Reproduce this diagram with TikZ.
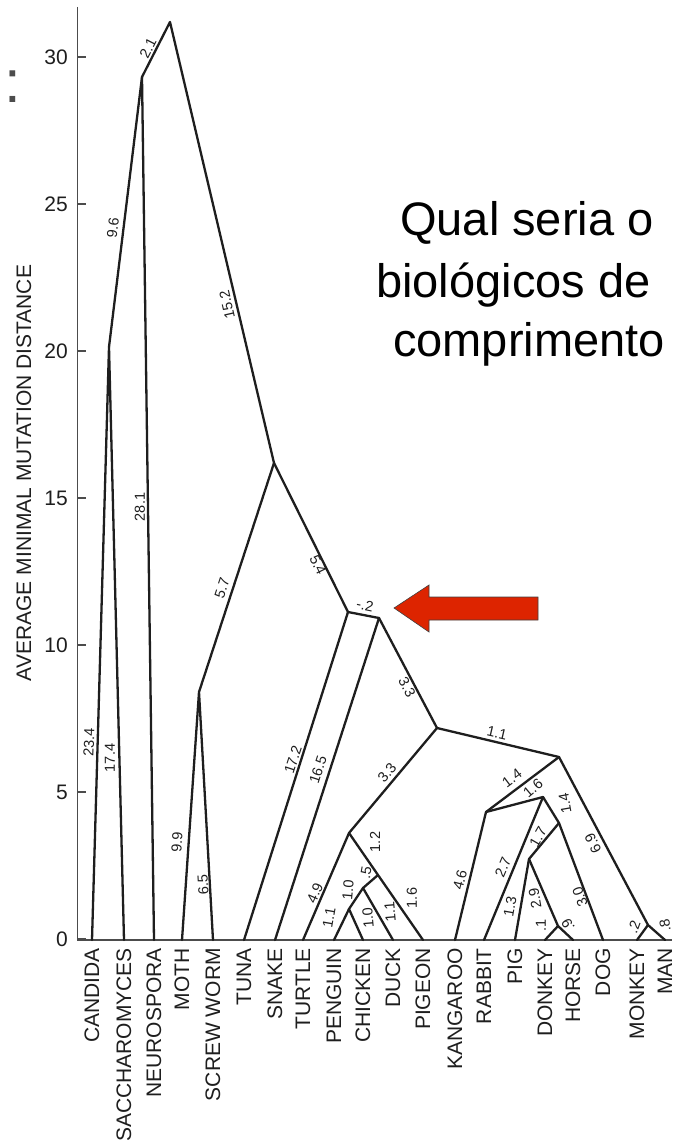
\documentclass[tikz,border=0pt]{standalone}
\usepackage{fontspec}
\setmainfont{Liberation Sans}
\definecolor{ink}{RGB}{30,30,30}
\definecolor{arrowred}{RGB}{221,36,0}
\tikzset{
  branch/.style={line width=2.3pt, draw=ink, line join=round, line cap=round},
  axisline/.style={line width=1.3pt, draw=black!70},
  blen/.style={font=\fontsize{14.5}{16}\selectfont, text=ink, inner sep=0pt},
  leaflab/.style={font=\fontsize{21}{24}\selectfont, text=ink, rotate=90, anchor=east, inner sep=0pt},
  ticklab/.style={font=\fontsize{21}{24}\selectfont, text=ink, anchor=east, inner sep=0pt},
  question/.style={font=\fontsize{47}{56}\selectfont, anchor=base west, inner sep=0pt}
}
\begin{document}
\begin{tikzpicture}[x=1pt, y=-1pt]
\useasboundingbox (0,0) rectangle (672,1148);

\draw[axisline] (77.5,7) -- (77.5,940) -- (672,940);
\foreach \v in {0,5,...,30} {
  \draw[axisline] (77.5,939-29.4*\v) -- (86,939-29.4*\v);
  \node[ticklab] (tick\v) at (68,939-29.4*\v) {\v};
}
\node[font=\fontsize{21}{24}\selectfont, rotate=90, text=ink, inner sep=0pt] (ytitle) at (24,473) {AVERAGE MINIMAL MUTATION DISTANCE};

\foreach \x/\name/\txt in {92/cand/CANDIDA, 124/sacc/SACCHAROMYCES, 154/neur/NEUROSPORA,
    182/moth/MOTH, 213/scre/SCREW WORM, 244/tuna/TUNA, 275/snak/SNAKE, 303/turt/TURTLE,
    334/peng/PENGUIN, 363/chic/CHICKEN, 393/duck/DUCK, 423/pige/PIGEON, 455/kang/KANGAROO,
    484/rabb/RABBIT, 515/pig/PIG, 545/donk/DONKEY, 573/hors/HORSE, 603/dog/DOG,
    637/monk/MONKEY, 665/man/MAN} {
  \coordinate (\name) at (\x,940);
  \node[leaflab] (\name-lab) at (\x,948) {\txt};
}

\coordinate (root) at (170,22);
\coordinate (fungi) at (142,77);
\coordinate (yeast) at (109,347);
\coordinate (animal) at (274,463);
\coordinate (insect) at (199,692);
\coordinate (vert) at (348,612);
\coordinate (tetra) at (379,618);
\coordinate (amniote) at (437,728);
\coordinate (sauria) at (349,833);
\coordinate (bird) at (378,875);
\coordinate (fowl) at (363,888);
\coordinate (galli) at (349,909);
\coordinate (mammal) at (559,757);
\coordinate (theria) at (486,812);
\coordinate (placen) at (543,797);
\coordinate (ungul) at (559,823);
\coordinate (hoofed) at (529,859);
\coordinate (equid) at (558,926);
\coordinate (primate) at (648,925);

\draw[branch] (cand) -- (yeast) -- (sacc);
\draw[branch] (yeast) -- (fungi) -- (root) -- (animal) -- (vert) -- (tetra) -- (amniote) -- (mammal) -- (primate) -- (man);
\draw[branch] (fungi) -- (neur);
\draw[branch] (moth) -- (insect) -- (scre);
\draw[branch] (insect) -- (animal);
\draw[branch] (vert) -- (tuna);
\draw[branch] (tetra) -- (snak);
\draw[branch] (amniote) -- (sauria) -- (turt);
\draw[branch] (sauria) -- (bird) -- (pige);
\draw[branch] (bird) -- (fowl) -- (galli) -- (peng);
\draw[branch] (galli) -- (chic);
\draw[branch] (fowl) -- (duck);
\draw[branch] (mammal) -- (theria) -- (kang);
\draw[branch] (theria) -- (placen) -- (rabb);
\draw[branch] (placen) -- (ungul) -- (dog);
\draw[branch] (ungul) -- (hoofed) -- (pig);
\draw[branch] (hoofed) -- (equid) -- (donk);
\draw[branch] (equid) -- (hors);
\draw[branch] (primate) -- (monk);

\foreach \x/\y/\ang/\lab [count=\k] in {148/48/63/2.1, 113/228/83/9.6, 227/305/103/15.2,
    140/507/90/28.1, 89/742/88/23.4, 110/758/90/17.4, 222/588/72/5.7, 318/565/-64/5.4,
    177/842/87/9.9, 203/885/93/6.5, 293/760/72/17.2, 318/770/72/16.5, 365/605/-12/-.2,
    407/687/-62/3.3, 387/773/50/3.3, 497/733/-13/1.1, 512/778/37/1.4, 533/788/40/1.6,
    565/803/100/1.4, 593/843/115/6.9, 460/880/76/4.6, 503/867/67/2.7, 538/837/60/1.7,
    510/907/80/1.3, 535/898/100/2.9, 541/925/90/.1, 568/925/120/.9, 580/897/110/3.0,
    634/927/70/.2, 665/925/100/.8, 315/893/66/4.9, 329/918/80/1.1, 348/890/85/1.0,
    366/873/80/.5, 375/842/90/1.2, 368/918/95/1.0, 390/912/95/1.1, 412/898/90/1.6} {
  \node[blen, rotate=\ang] (len\k) at (\x,\y) {\lab};
}

\fill[arrowred, draw=black!75, line width=0.6pt] (394,608) -- (429,585) -- (429,597) -- (538,597)
  -- (538,620) -- (429,620) -- (429,632) -- cycle;

\node[question] (line1) at (400,235) {Qual seria o};
\node[question] (line2) at (376,297) {biológicos de};
\node[question] (line3) at (393,356) {comprimento};

\node[font=\fontsize{60}{60}\selectfont, text=black!70, anchor=base, inner sep=0pt] (colon) at (13,102) {:};
\end{tikzpicture}
\end{document}
